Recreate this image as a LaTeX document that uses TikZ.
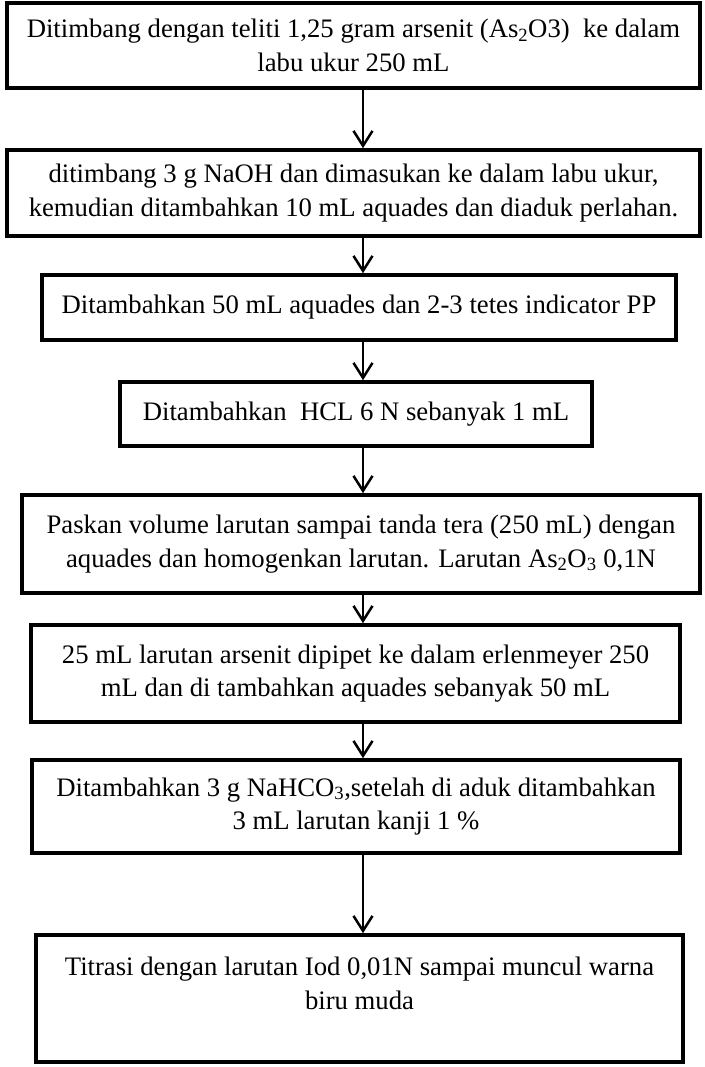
\documentclass[tikz,border=0pt]{standalone}
\usepackage{fontspec}
\setmainfont{Liberation Serif}
\usetikzlibrary{arrows.meta}
\begin{document}
\begin{tikzpicture}[x=1pt,y=-1pt,
  stepfont/.style={font=\fontsize{26.7}{33.5}\selectfont},
  stepbox/.style={draw=black, line width=3.6pt, rectangle, align=center,
    inner sep=0pt, stepfont},
  flow/.style={line width=2.5pt, -{Straight Barb[length=15pt,width=19pt,line width=2.5pt]}}]
\useasboundingbox (0,0) rectangle (704,1067);
\fill[white] (0,0) rectangle (704,1067);

\node[stepbox, minimum width=693pt, minimum height=85pt] (b1) at (353.5,45.5)
  {Ditimbang dengan teliti 1,25 gram arsenit (As\textsubscript{2}O3)\ \ ke dalam\\ labu ukur 250 mL};
\node[stepbox, minimum width=693pt, minimum height=86pt] (b2) at (353.5,193)
  {ditimbang 3 g NaOH dan dimasukan ke dalam labu ukur,\\ kemudian ditambahkan 10 mL aquades dan diaduk perlahan.};
\node[stepbox, minimum width=634pt, minimum height=65pt] (b3) at (359,307.5)
  {Ditambahkan 50 mL aquades dan 2-3 tetes indicator PP};
\node[stepbox, minimum width=472pt, minimum height=64pt] (b4) at (356,414)
  {Ditambahkan\ \ HCL 6 N sebanyak 1 mL};
\node[stepbox, minimum width=678pt, minimum height=98pt] (b5) at (361,544)
  {Paskan volume larutan sampai tanda tera (250 mL) dengan\\ aquades dan homogenkan larutan. Larutan As\textsubscript{2}O\textsubscript{3} 0,1N};
\node[stepbox, minimum width=649pt, minimum height=97pt] (b6) at (355.5,673.5)
  {25 mL larutan arsenit dipipet ke dalam erlenmeyer 250\\ mL dan di tambahkan aquades sebanyak 50 mL};
\node[stepbox, minimum width=648pt, minimum height=93pt] (b7) at (356,806.5)
  {Ditambahkan 3 g NaHCO\textsubscript{3},setelah di aduk ditambahkan\\ 3 mL larutan kanji 1 \%};
\node[stepbox, minimum width=647pt, minimum height=127pt] (b8) at (359.5,998.5) {};
\node[align=center, inner sep=0pt, anchor=north, stepfont] (t8)
  at ([yshift=-24pt]b8.north)
  {Titrasi dengan larutan Iod 0,01N sampai muncul warna\\ biru muda};

% arrows run down a common vertical line
\coordinate (ax) at (363,0);
\draw[flow] (b1.south -| ax) -- (b2.north -| ax);
\draw[flow] (b2.south -| ax) -- (b3.north -| ax);
\draw[flow] (b3.south -| ax) -- (b4.north -| ax);
\draw[flow] (b4.south -| ax) -- (b5.north -| ax);
\draw[flow] (b5.south -| ax) -- (b6.north -| ax);
\draw[flow] (b6.south -| ax) -- (b7.north -| ax);
\draw[flow] (b7.south -| ax) -- (b8.north -| ax);
\end{tikzpicture}
\end{document}
